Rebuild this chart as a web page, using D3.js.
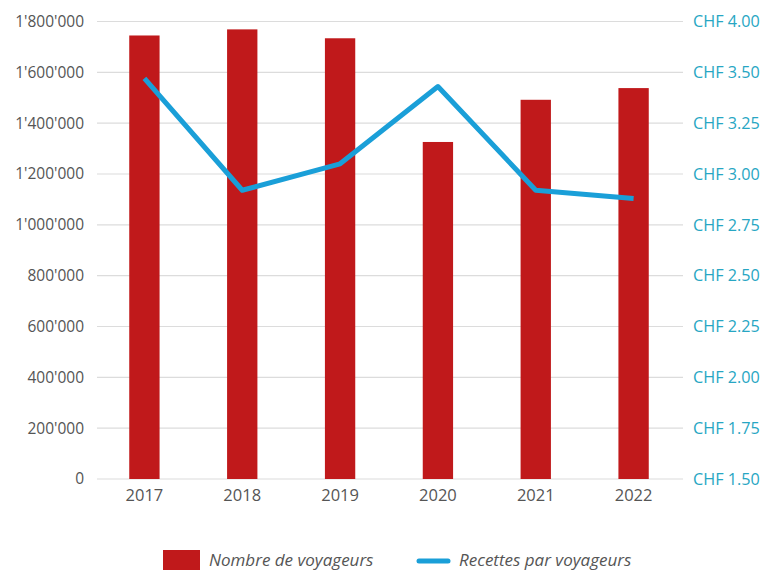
<!DOCTYPE html>
<html>
<head>
<meta charset="utf-8">
<script src="https://cdn.jsdelivr.net/npm/d3@7"></script>
<style>
  body { margin: 0; background: #fff; }
  text { font-family: "Open Sans", sans-serif; }
</style>
</head>
<body>
<div id="chart"></div>
<script>
const years = ["2017", "2018", "2019", "2020", "2021", "2022"]
const voyageurs = [1745000, 1769000, 1734000, 1326000, 1492000, 1538000]
const recettes = [3.47, 2.92, 3.05, 3.43, 2.92, 2.88]

const leftTicks = [0, 200000, 400000, 600000, 800000, 1000000, 1200000, 1400000, 1600000, 1800000]
const leftLabels = ["0", "200'000", "400'000", "600'000", "800'000", "1'000'000", "1'200'000", "1'400'000", "1'600'000", "1'800'000"]
const rightTicks = [1.5, 1.75, 2.0, 2.25, 2.5, 2.75, 3.0, 3.25, 3.5, 3.75]
const rightLabels = ["CHF 1.50", "CHF 1.75", "CHF 2.00", "CHF 2.25", "CHF 2.50", "CHF 2.75", "CHF 3.00", "CHF 3.25", "CHF 3.50", "CHF 4.00"]
const legendLabels = ["Nombre de voyageurs", "Recettes par voyageurs"]

const width = 766
const height = 571
const margin = ({ top: 21.5, right: 83, bottom: 92, left: 95 })

const red = "#c0191b"
const blue = "#1a9fd8"

const svg = d3.select("#chart").append("svg")
  .attr("width", width)
  .attr("height", height)

const x = d3.scaleBand()
  .domain(years)
  .range([margin.left, width - margin.right])
  .paddingInner(0.69)
  .paddingOuter(0.35)

const y = d3.scaleLinear()
  .domain([0, 1800000])
  .range([height - margin.bottom, margin.top])

const y2 = d3.scaleLinear()
  .domain([1.5, 3.75])
  .range([height - margin.bottom, margin.top])

// gridlines
svg.append("g")
  .selectAll("line")
  .data(leftTicks)
  .join("line")
  .attr("x1", 97)
  .attr("x2", 683)
  .attr("y1", d => y(d))
  .attr("y2", d => y(d))
  .attr("stroke", "#dcdcdc")
  .attr("stroke-width", 1.2)

// left axis
const yAxis = g => g
  .attr("transform", `translate(${margin.left - 8},0)`)
  .call(d3.axisLeft(y).tickValues(leftTicks).tickFormat((d, i) => leftLabels[i]).tickSize(0).tickPadding(3))
  .call(g => g.select(".domain").remove())
  .call(g => g.selectAll("text").attr("fill", "#555").attr("font-size", 15.5).attr("font-family", "Open Sans"))

svg.append("g").call(yAxis)

// right axis
const y2Axis = g => g
  .attr("transform", `translate(${width - margin.right + 10},0)`)
  .call(d3.axisRight(y2).tickValues(rightTicks).tickFormat((d, i) => rightLabels[i]).tickSize(0).tickPadding(0))
  .call(g => g.select(".domain").remove())
  .call(g => g.selectAll("text").attr("fill", "#27a6c3").attr("font-size", 16.2).attr("font-family", "Open Sans"))

svg.append("g").call(y2Axis)

// bars
svg.append("g")
  .selectAll("rect")
  .data(voyageurs)
  .join("rect")
  .attr("x", (d, i) => x(years[i]))
  .attr("y", d => y(d))
  .attr("width", x.bandwidth())
  .attr("height", d => y(0) - y(d))
  .attr("fill", red)

// x labels
const xAxis = g => g
  .attr("transform", `translate(0,${height - margin.bottom})`)
  .call(d3.axisBottom(x).tickSize(0).tickPadding(10))
  .call(g => g.select(".domain").remove())
  .call(g => g.selectAll("text").attr("fill", "#555").attr("font-size", 16.5).attr("font-family", "Open Sans"))

svg.append("g").call(xAxis)

// line
const line = d3.line()
  .x((d, i) => x(years[i]) + x.bandwidth() / 2)
  .y(d => y2(d))

svg.append("path")
  .datum(recettes)
  .attr("fill", "none")
  .attr("stroke", blue)
  .attr("stroke-width", 5)
  .attr("stroke-linejoin", "round")
  .attr("d", line)

// legend
const legend = svg.append("g")
legend.append("rect")
  .attr("x", 163)
  .attr("y", 550)
  .attr("width", 37)
  .attr("height", 20)
  .attr("fill", red)
legend.append("text")
  .attr("x", 209)
  .attr("y", 566)
  .attr("font-size", 17)
  .attr("font-style", "italic")
  .attr("fill", "#555")
  .text(legendLabels[0])
legend.append("line")
  .attr("x1", 419)
  .attr("x2", 448)
  .attr("y1", 561)
  .attr("y2", 561)
  .attr("stroke", blue)
  .attr("stroke-width", 5)
  .attr("stroke-linecap", "round")
legend.append("text")
  .attr("x", 459)
  .attr("y", 566)
  .attr("font-size", 17)
  .attr("font-style", "italic")
  .attr("fill", "#555")
  .text(legendLabels[1])
</script>
</body>
</html>
